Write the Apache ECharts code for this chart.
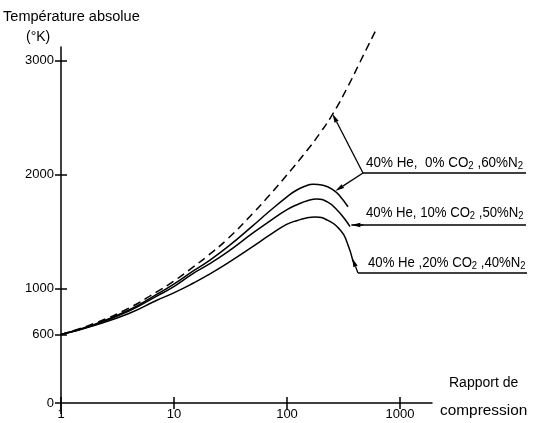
<!DOCTYPE html>
<html>
<head>
<meta charset="utf-8">
<script src="https://cdn.jsdelivr.net/npm/echarts@6/dist/echarts.min.js"></script>
<style>
  html, body { margin: 0; background: #fff; }
  #chart { width: 533px; height: 423px; }
</style>
</head>
<body>
<div id="chart"></div>
<script>
// compression ratio -> absolute temperature (K)
const idealRatio = [1, 2, 4, 7, 10, 15, 20, 30, 50, 70, 100, 150, 200, 260, 350, 450, 620]
const idealTemp = [600, 700, 832, 972, 1068, 1195, 1290, 1438, 1660, 1818, 1996, 2207, 2372, 2543, 2775, 2993, 3270]

const co2_0Ratio = [1, 2, 4, 7, 10, 15, 20, 30, 50, 70, 100, 120, 145, 172, 210, 260, 300, 350]
const co2_0Temp = [600, 690, 815, 950, 1042, 1160, 1240, 1368, 1552, 1678, 1805, 1860, 1900, 1917, 1908, 1866, 1808, 1720]

const co2_10Ratio = [1, 2, 4, 7, 10, 15, 20, 30, 50, 70, 100, 125, 155, 185, 230, 280, 320, 365]
const co2_10Temp = [600, 686, 805, 935, 1020, 1138, 1210, 1324, 1488, 1590, 1692, 1740, 1775, 1788, 1762, 1691, 1625, 1545]

const co2_20Ratio = [1, 2, 4, 7, 10, 15, 20, 30, 50, 70, 100, 125, 150, 180, 230, 300, 340, 390]
const co2_20Temp = [600, 682, 785, 898, 965, 1052, 1120, 1226, 1370, 1468, 1565, 1600, 1622, 1630, 1602, 1515, 1420, 1235]

const xTicks = [1, 10, 100, 1000]
const yTicks = [0, 600, 1000, 2000, 3000]

// where the leaders touch the curves (data coords)
const tipIdeal = [255, 2535]
const tipCo2_0 = [270, 1858]
const tipCo2_10 = [375, 1560]
const tipCo2_20 = [382, 1270]

const FONT = '"Liberation Sans", Arial, sans-serif'
const zip = (a, b) => a.map((v, i) => [v, b[i]])

const chart = echarts.init(document.getElementById('chart'))

const lineSeries = (name, ratio, temp, dashed) => ({
  name,
  type: 'line',
  xAxisIndex: 0,
  yAxisIndex: 0,
  data: zip(ratio, temp),
  smooth: 0.5,
  symbol: 'none',
  clip: false,
  animation: false,
  lineStyle: { color: '#000', width: 1.5, type: dashed ? [8, 5] : 'solid' }
})

chart.setOption({
  animation: false,
  grid: [
    { left: 61, right: 101, top: 47, bottom: 20 },
    { left: 61, right: 133, top: 47, bottom: 20 }
  ],
  xAxis: [{
    type: 'log', gridIndex: 0, min: 1, max: 1945, position: 'bottom',
    axisLine: { onZero: false, lineStyle: { color: '#000', width: 1.5 } },
    axisTick: { show: false }, axisLabel: { show: false },
    splitLine: { show: false }, minorTick: { show: false }
  }, {
    type: 'log', gridIndex: 1, min: 1, max: 1000, position: 'bottom',
    axisLine: { show: false },
    axisTick: { length: 6, lineStyle: { color: '#000', width: 1.5 } },
    axisLabel: { color: '#000', fontSize: 13, fontFamily: FONT, margin: 5, formatter: v => String(v) },
    splitLine: { show: false }
  }, {
    type: 'log', gridIndex: 1, min: 1, max: 1000, position: 'bottom',
    axisLine: { show: false },
    axisTick: { inside: true, length: 6, lineStyle: { color: '#000', width: 1.5 } },
    axisLabel: { show: false }, splitLine: { show: false }
  }],
  yAxis: [{
    type: 'value', gridIndex: 0, min: 0, max: 3120, position: 'left',
    axisLine: { show: true, onZero: false, lineStyle: { color: '#000', width: 1.5 } },
    axisTick: { show: true, length: 6, customValues: yTicks, lineStyle: { color: '#000', width: 1.5 } },
    axisLabel: { customValues: yTicks, color: '#000', fontSize: 13, fontFamily: FONT, margin: 7, formatter: v => String(v) },
    splitLine: { show: false }
  }, {
    type: 'value', gridIndex: 0, min: 0, max: 3120, position: 'left',
    axisLine: { show: false, onZero: false },
    axisTick: { show: true, inside: true, length: 6, customValues: yTicks.slice(1), lineStyle: { color: '#000', width: 1.5 } },
    axisLabel: { show: false }, splitLine: { show: false }
  }, {
    type: 'value', gridIndex: 1, min: 0, max: 3120, show: false
  }],
  series: [
    lineSeries('ideal', idealRatio, idealTemp, true),
    lineSeries('0% CO2', co2_0Ratio, co2_0Temp, false),
    lineSeries('10% CO2', co2_10Ratio, co2_10Temp, false),
    lineSeries('20% CO2', co2_20Ratio, co2_20Temp, false)
  ]
})

const px = p => chart.convertToPixel({ xAxisIndex: 0, yAxisIndex: 0 }, p)

function arrow(from, to) {
  const dx = to[0] - from[0], dy = to[1] - from[1]
  const len = Math.hypot(dx, dy)
  const ux = dx / len, uy = dy / len
  const hl = 9, hw = 2.3
  const bx = to[0] - ux * hl, by = to[1] - uy * hl
  return [
    { type: 'line', shape: { x1: from[0], y1: from[1], x2: bx, y2: by }, style: { stroke: '#000', lineWidth: 1.3 } },
    { type: 'polygon', shape: { points: [to, [bx - uy * hw, by + ux * hw], [bx + uy * hw, by - ux * hw]] }, style: { fill: '#000' } }
  ]
}

const hline = (x1, x2, y) => ({ type: 'line', shape: { x1, y1: y, x2, y2: y }, style: { stroke: '#000', lineWidth: 1.3 } })

const txt = (text, x, y, scaleX) => ({
  type: 'text', x, y, scaleX: scaleX || 1,
  style: {
    text, fill: '#000', fontSize: 14, fontFamily: FONT, verticalAlign: 'middle',
    rich: { s: { fontSize: 10, fontFamily: FONT, padding: [6, 0, 0, 0] } }
  }
})

const t0 = px(tipIdeal), t1 = px(tipCo2_0), t2 = px(tipCo2_10), t3 = px(tipCo2_20)
const start1 = [363, 173], start3 = [358, 273]

chart.setOption({
  graphic: [
    txt('Température absolue', 3, 17, 1.04),
    txt('(°K)', 26, 37),
    txt('Rapport de', 449, 383),
    txt('compression', 440, 411, 1.1),
    txt('40% He,  0% CO{s|2} ,60%N{s|2}', 366, 163, 0.96),
    txt('40% He, 10% CO{s|2} ,50%N{s|2}', 366, 213, 0.94),
    txt('40% He ,20% CO{s|2} ,40%N{s|2}', 368, 263, 0.94),
    hline(start1[0], 526, start1[1]),
    hline(t2[0], 526, t2[1]),
    hline(start3[0], 527, start3[1]),
    { type: 'line', shape: { x1: 61, y1: 403, x2: 61, y2: 414 }, style: { stroke: '#000', lineWidth: 1.5 } },
    ...arrow(start1, t0),
    ...arrow(start1, t1),
    ...arrow([t2[0] + 12, t2[1]], t2),
    ...arrow(start3, t3)
  ]
})
</script>
</body>
</html>
